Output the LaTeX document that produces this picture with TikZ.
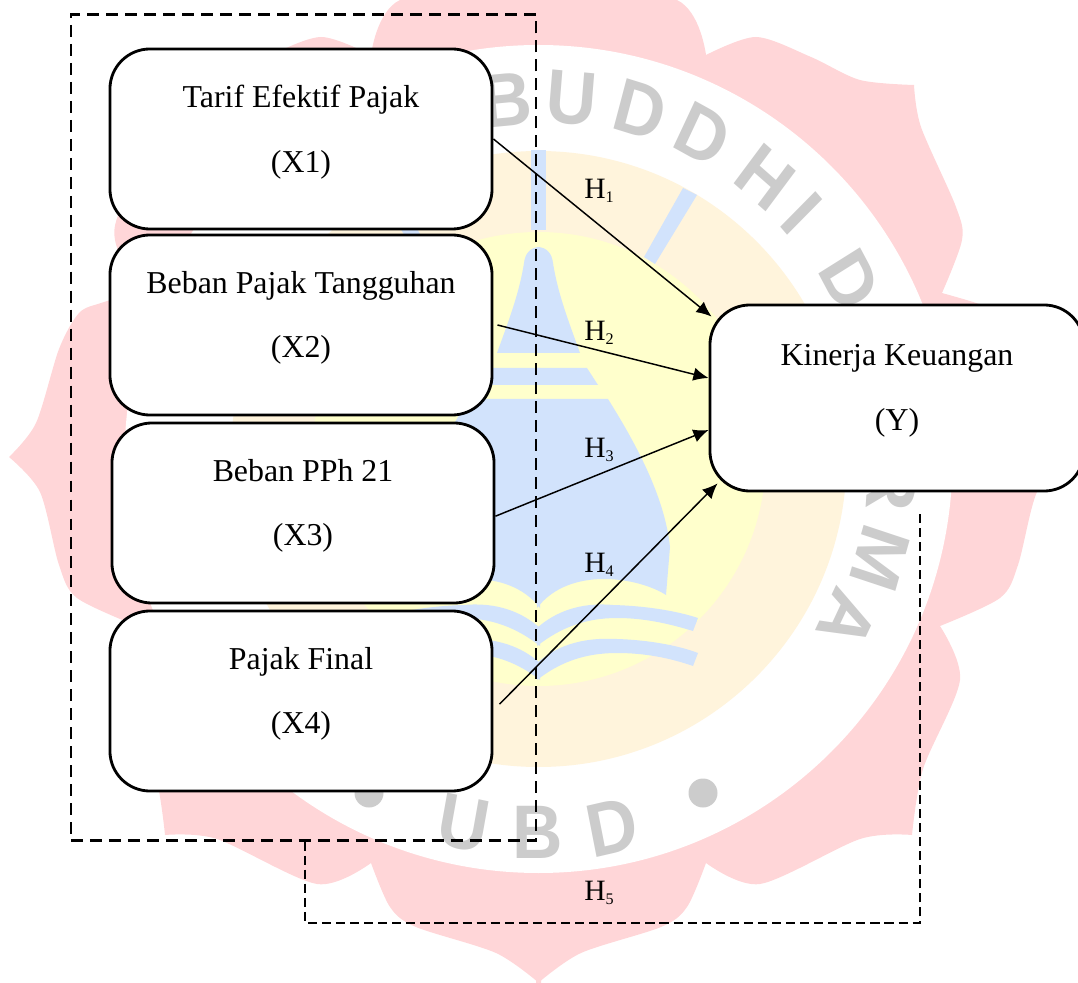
\documentclass[tikz,border=0pt]{standalone}
\usepackage{fontspec}
\setmainfont{Liberation Serif}
\newfontfamily\wmfont{Liberation Sans}
\usetikzlibrary{arrows.meta}

\definecolor{sealpink}{HTML}{FFD6D8}
\definecolor{ringcream}{HTML}{FFF4DC}
\definecolor{ringyellow}{HTML}{FFFFCC}
\definecolor{logoblue}{HTML}{D2E3FC}
\definecolor{wmgrey}{HTML}{CCCCCC}

\tikzset{
    varbox/.style={draw, fill=white, line width=2pt, rounded corners=1cm, minimum width=9.55cm, minimum height=4.5cm, align=center, inner sep=0pt, font=\fontsize{22.65}{46}\selectfont, text depth=15pt},
    hlabel/.style={inner sep=0pt, font=\fontsize{21}{26}\selectfont},
    wmletter/.style={inner sep=0pt, text=wmgrey, xscale=0.92, font=\wmfont\bfseries\fontsize{54}{54}\selectfont},
    hline/.style={line width=1.05pt, -{Latex[length=10.8pt,width=9.5pt]}},
    groupbox/.style={draw, line width=2pt, dash pattern=on 8.5pt off 5pt, minimum width=11.625cm, minimum height=20.625cm, inner sep=0pt},
    hfive/.style={line width=1.2pt, dash pattern=on 6.5pt off 3.5pt}
}

\newcommand{\hsub}[1]{H\raisebox{-2.5pt}{\fontsize{11.5}{12}\selectfont #1}}

% right half of the seal, mirrored for the left one
\newcommand{\sealhalf}{
    \fill[sealpink] plot[smooth] coordinates {(536,-25) (677,0) (706,55)}
        -- plot[smooth] coordinates {(706,55) (756,37) (811,57) (860,80) (914,85)}
        -- plot[smooth] coordinates {(914,85) (921,127) (956,207) (962,240) (942,293)}
        -- plot[smooth] coordinates {(942,293) (976,303) (998,313) (1018,349) (1041,423) (1068,457)}
        -- plot[smooth] coordinates {(1068,457) (1037,492) (1018,565) (1000,598) (940,626)}
        -- plot[smooth] coordinates {(940,626) (960,680) (923,769) (912,835)}
        -- plot[smooth] coordinates {(912,835) (860,839) (760,884) (706,863)}
        -- plot[smooth] coordinates {(706,863) (687,907) (661,927) (581,953) (538,983)}
        -- (536,983) -- cycle;
}
\newcommand{\logohalf}{
    \fill[logoblue] (537,150) rectangle (546,230);
    \fill[logoblue] (683,188) -- (697,195) -- (655,264) -- (644,257) -- cycle;
    \fill[logoblue] (537,247) .. controls (547,247) and (552,254) .. (553,263) .. controls (558,295) and (570,325) .. (580,353) -- (537,353) -- cycle;
    \fill[logoblue] (537,368) -- (587,368) -- (598,385) -- (537,385) -- cycle;
    \fill[logoblue] (537,399) -- (608,399) .. controls (640,450) and (665,500) .. (670,547) -- (666,595) .. controls (640,578) and (570,565) .. (537,608) -- cycle;
    \fill[logoblue] (537,628) .. controls (555,612) and (580,602) .. (613,605) .. controls (650,606) and (680,612) .. (698,618) -- (693,631) .. controls (670,624) and (645,618) .. (617,618) .. controls (585,618) and (560,628) .. (537,646) -- cycle;
    \fill[logoblue] (537,663) .. controls (555,647) and (580,637) .. (617,639) .. controls (650,640) and (680,646) .. (698,653) -- (693,666) .. controls (670,658) and (645,653) .. (617,653) .. controls (585,653) and (560,662) .. (537,680) -- cycle;
}

\begin{document}
\begin{tikzpicture}[x=0.025cm, y=-0.025cm]
    \useasboundingbox (0,0) rectangle (1078,983);

    % watermark
    \sealhalf
    \begin{scope}[shift={(1077,0)}, xscale=-1]
        \sealhalf
    \end{scope}
    \fill[white] (538.5,459) circle (414);
    \fill[ringcream] (538.5,459) circle (308);
    \fill[ringyellow] (538.5,459) circle (227);
    \logohalf
    \begin{scope}[shift={(1077,0)}, xscale=-1]
        \logohalf
    \end{scope}
    \fill[wmgrey] (703,793) circle (14.5);
    \fill[wmgrey] (369,793) circle (14.5);
    \foreach \ltr/\px/\py/\ang [count=\i] in {B/507/100/5, U/572/98/-5, D/640/110/-16, D/703/135/-27, H/765/177/-39, I/802/213/-47, D/850/280/-60, R/892/484/-94, M/880/558/-107, A/847/620/-117, U/464/823/-11, B/538/832/0, D/612/827/12}
        \node[wmletter, rotate=\ang] (wm\i) at (\px,\py) {\ltr};

    % variables
    \node[groupbox] (grp) at (303.5,427.5) {};
    \node[varbox] (x1) at (301,139) {Tarif Efektif Pajak\\(X1)};
    \node[varbox] (x2) at (301,325) {Beban Pajak Tangguhan\\(X2)};
    \node[varbox] (x3) at (303,513) {Beban PPh 21\\(X3)};
    \node[varbox] (x4) at (301,701) {Pajak Final\\(X4)};
    \node[varbox, minimum width=9.35cm, minimum height=4.65cm] (ky) at (897,398) {Kinerja Keuangan\\(Y)};

    % hypotheses
    \draw[hline] (x1.east) -- ([shift={(3,13)}]ky.north west);
    \draw[hline] ([xshift=0.1cm]x2.east) -- ([yshift=0.5cm]ky.west);
    \draw[hline] ([yshift=-0.08cm]x3.east) -- ([yshift=-0.8cm]ky.west);
    \draw[hline] ([xshift=0.15cm,yshift=-0.08cm]x4.east) -- ([shift={(9,-9)}]ky.south west);
    \coordinate (h5a) at (305,923);
    \coordinate (h5b) at (920,923);
    \coordinate (h5c) at (920,510);
    \draw[hfive] (grp.south -| h5a) -- (h5a) -- (h5b) -- (h5c);

    \node[hlabel] (h1) at (599,191) {\hsub{1}};
    \node[hlabel] (h2) at (599,333) {\hsub{2}};
    \node[hlabel] (h3) at (599,450) {\hsub{3}};
    \node[hlabel] (h4) at (599,565) {\hsub{4}};
    \node[hlabel] (h5) at (599,893) {\hsub{5}};
\end{tikzpicture}
\end{document}
